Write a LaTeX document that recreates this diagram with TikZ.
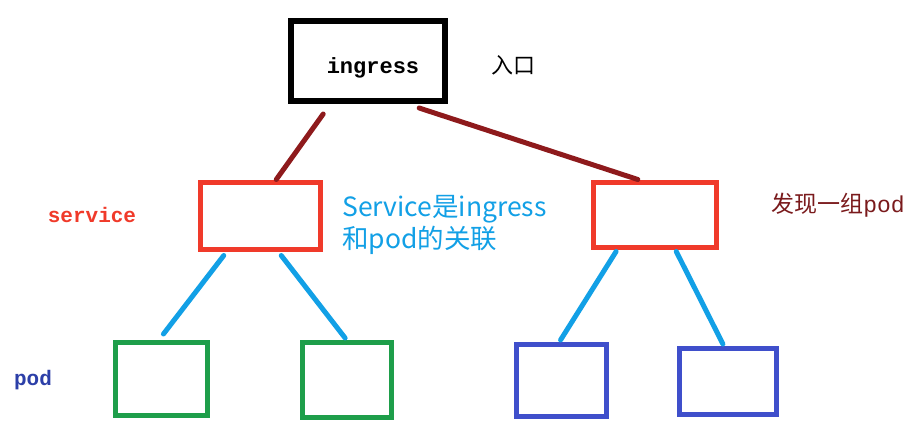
\documentclass[tikz,border=0pt]{standalone}
\usepackage{fontspec}
\usetikzlibrary{calc}
\newfontfamily\cjk{Noto Sans CJK SC}
\newfontfamily\monof{Liberation Mono}
\definecolor{svcred}{HTML}{F03A2A}
\definecolor{linkred}{HTML}{8E1A1C}
\definecolor{linkblue}{HTML}{1496E0}
\definecolor{podgreen}{HTML}{1E9E4A}
\definecolor{podblue}{HTML}{3F4FCB}
\definecolor{txtblue}{HTML}{2C3FA8}
\definecolor{noteblue}{HTML}{12A0E6}
\definecolor{darkred}{HTML}{7A1A1C}
\tikzset{
  box/.style={draw, rectangle, inner sep=0pt, fill=white},
  redlink/.style={draw=linkred, line width=5pt, line cap=round},
  bluelink/.style={draw=noteblue, line width=5pt, line cap=round},
  lbl/.style={inner sep=0pt}
}
\begin{document}
\begin{tikzpicture}[x=1pt,y=-1pt]
\useasboundingbox[fill=white] (0,0) rectangle (917,440);
% boxes
\node[box, line width=6pt, minimum width=154pt, minimum height=80pt] (ing) at (368,61) {};
\node[box, draw=svcred, line width=5pt, minimum width=120pt, minimum height=67pt] (svcL) at (260,215.5) {};
\node[box, draw=svcred, line width=5pt, minimum width=123pt, minimum height=65pt] (svcR) at (654.5,214.5) {};
\node[box, draw=podgreen, line width=5pt, minimum width=92pt, minimum height=73pt] (g1) at (161.5,379) {};
\node[box, draw=podgreen, line width=5pt, minimum width=89pt, minimum height=75pt] (g2) at (347,380) {};
\node[box, draw=podblue, line width=5pt, minimum width=90pt, minimum height=72pt] (b1) at (561.5,380.5) {};
\node[box, draw=podblue, line width=5pt, minimum width=97pt, minimum height=66pt] (b2) at (728,381.5) {};
% connectors
\draw[redlink] ($(ing.south west)!0.22!(ing.south east)+(0,10)$) -- ($(svcL.north west)!0.63!(svcL.north east)$);
\draw[redlink] ($(ing.south west)!0.82!(ing.south east)+(0,4)$) -- ($(svcR.north west)!0.37!(svcR.north east)$);
\draw[bluelink] ($(svcL.south west)!0.21!(svcL.south east)+(0,4)$) -- ($(g1.north west)!0.52!(g1.north east)+(0,-6)$);
\draw[bluelink] ($(svcL.south west)!0.67!(svcL.south east)+(0,4)$) -- ($(g2.north west)!0.48!(g2.north east)+(0,-2)$);
\draw[bluelink] ($(svcR.south west)!0.2!(svcR.south east)+(0,2)$) -- ($(b1.north west)!0.49!(b1.north east)+(0,-2)$);
\draw[bluelink] ($(svcR.south west)!0.67!(svcR.south east)+(0,2)$) -- ($(b2.north west)!0.45!(b2.north east)+(0,-2)$);
% texts
\node[lbl, font=\monof\fontsize{22}{24}\selectfont\bfseries] (ingtxt) at (373,68) {ingress};
\node[lbl, font=\cjk\fontsize{22}{26}\selectfont] (entry) at (513,65) {入口};
\node[lbl, text=svcred, font=\monof\fontsize{21}{24}\selectfont\bfseries] (svctxt) at (92,215) {service};
\node[lbl, text=txtblue, font=\monof\fontsize{21}{24}\selectfont\bfseries] (podtxt) at (33,380) {pod};
\node[lbl, text=darkred, font=\cjk\fontsize{23}{26}\selectfont] (findtxt) at (838,205) {发现一组{\monof pod}};
\node[lbl, anchor=north west, align=left, text=noteblue, font=\cjk\fontsize{26.5}{32}\selectfont] (note) at (342,195) {Service是ingress\\和pod的关联};
\end{tikzpicture}
\end{document}
